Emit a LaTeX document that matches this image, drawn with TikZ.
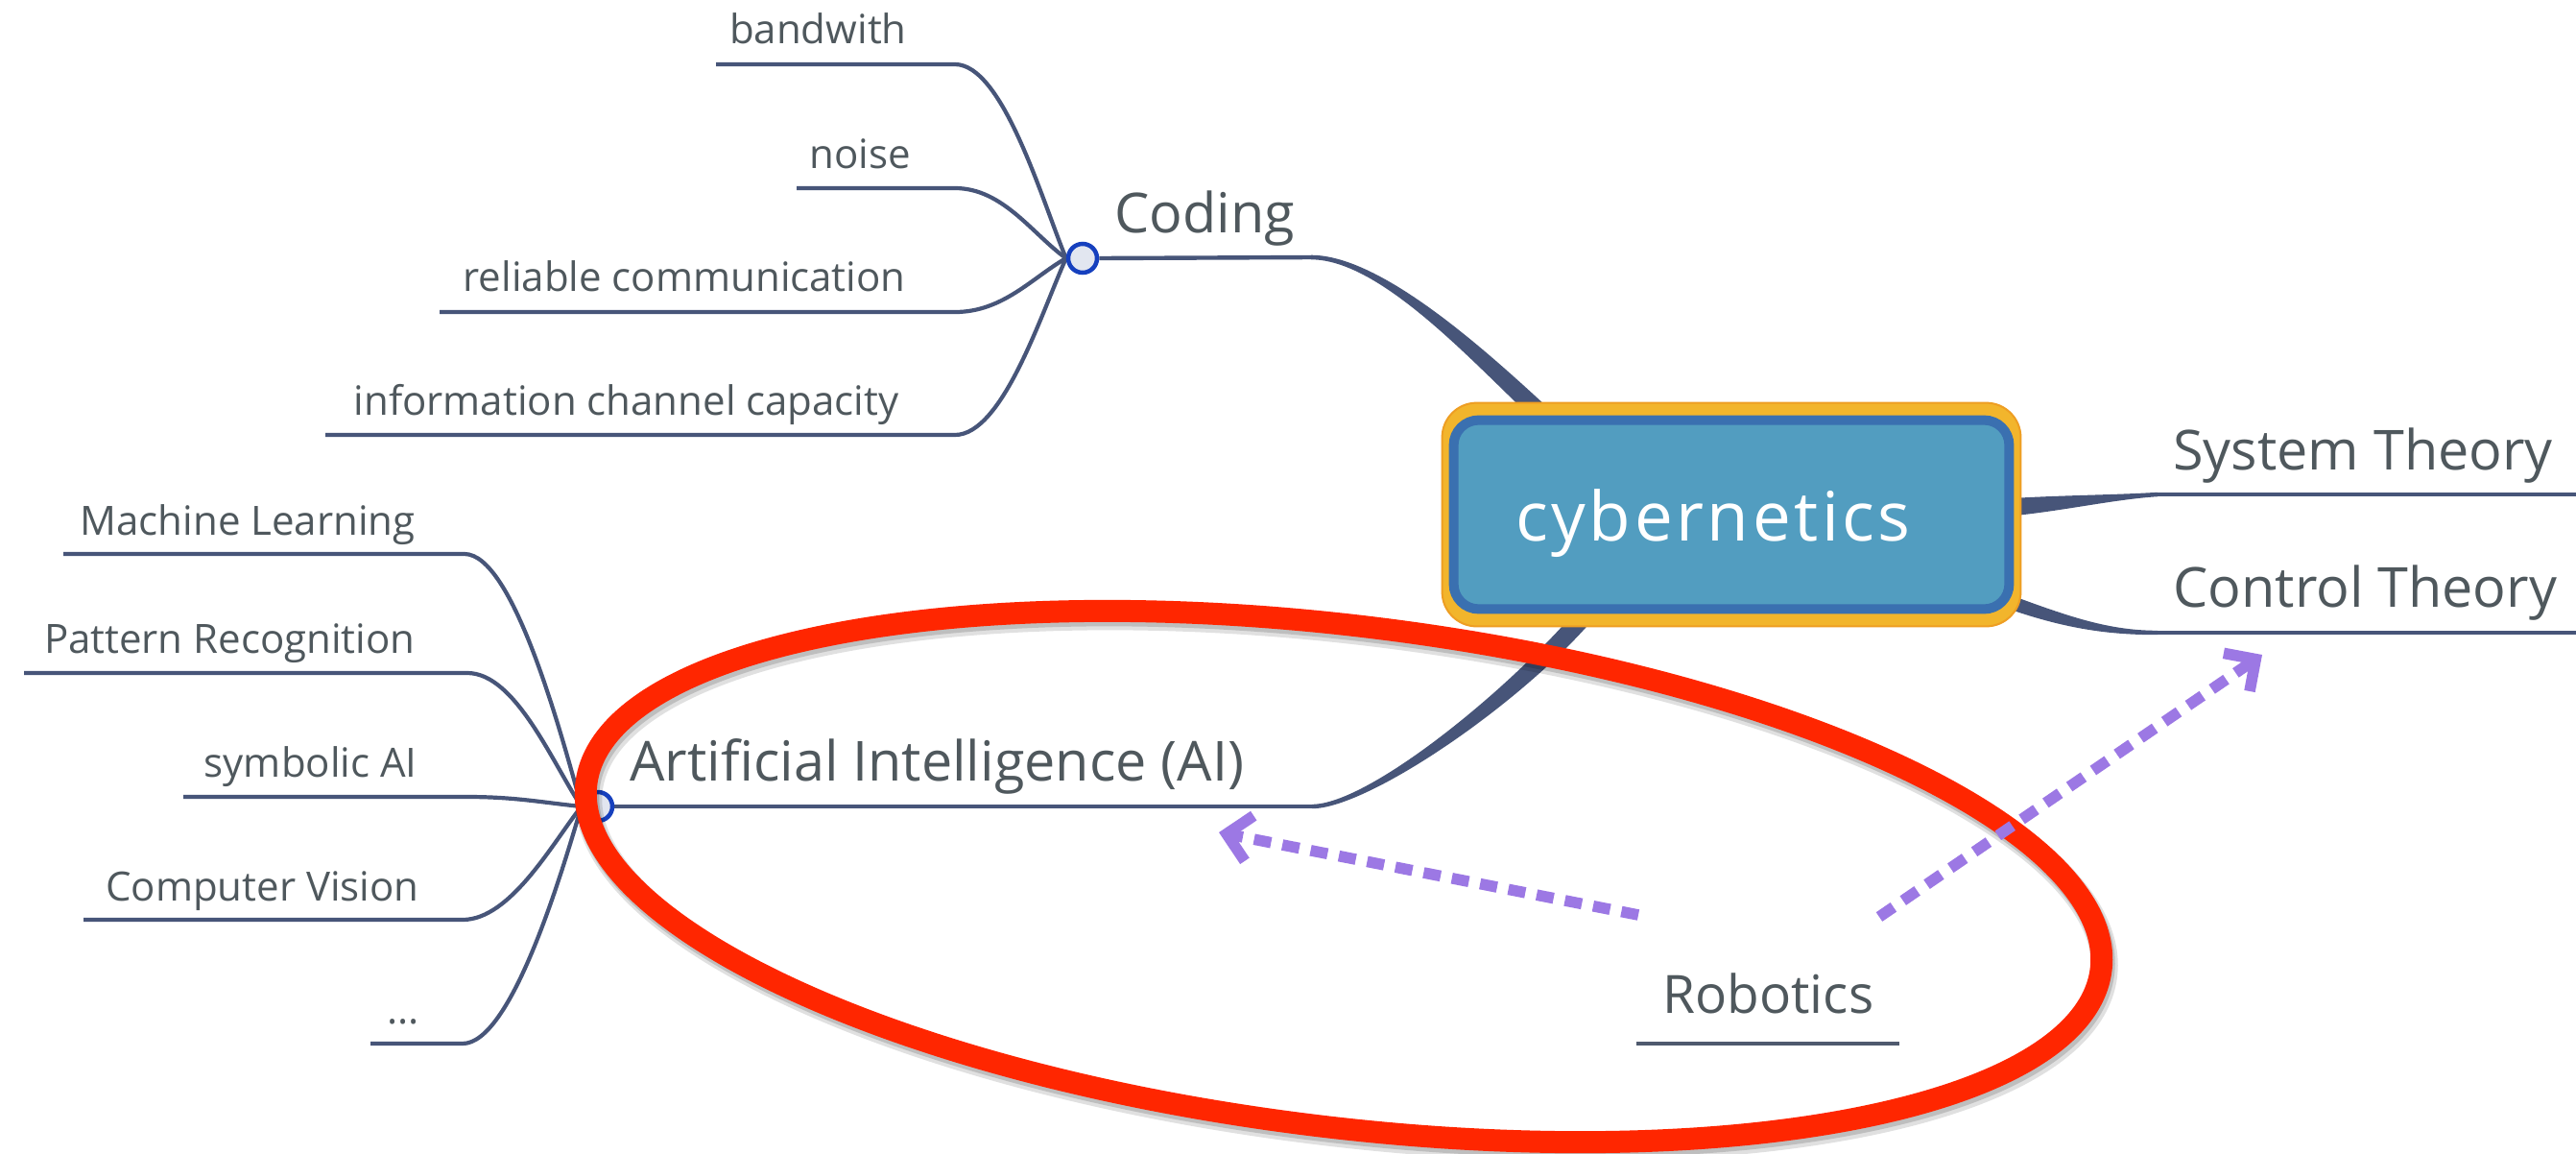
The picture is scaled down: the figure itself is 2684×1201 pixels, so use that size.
\documentclass[tikz,border=0pt]{standalone}
\usepackage{fontspec}
\setmainfont{Open Sans}
\newfontfamily\cybfont[LetterSpace=5]{Open Sans}
\usetikzlibrary{calc,arrows.meta}
\definecolor{branchc}{HTML}{475579}
\definecolor{textc}{HTML}{4F585D}
\definecolor{orfill}{HTML}{F2B52C}
\definecolor{oredge}{HTML}{EE9E23}
\definecolor{boxring}{HTML}{3A70B0}
\definecolor{boxfill}{HTML}{529DC0}
\definecolor{hubfill}{HTML}{E2E6F0}
\definecolor{hubdraw}{HTML}{1640BE}
\definecolor{redc}{HTML}{FF2600}
\definecolor{purp}{HTML}{9C78E4}
\definecolor{robc}{HTML}{4F5A6E}
\pgfdeclarelayer{back}
\pgfdeclarelayer{boxl}
\pgfsetlayers{back,boxl,main}
\newcommand\taper[6]{%
  \fill[branchc] ($(#1)!#5!90:(#2)$) .. controls ($(#2)!#5!-90:(#1)$) and ($(#3)!#6!90:(#4)$) .. ($(#4)!#6!-90:(#3)$)
   -- ($(#4)!#6!90:(#3)$) .. controls ($(#3)!#6!-90:(#4)$) and ($(#2)!#5!90:(#1)$) .. ($(#1)!#5!-90:(#2)$) -- cycle;}
\begin{document}
\begin{tikzpicture}[x=0.5pt,y=-0.5pt,
  lbl/.style={text=textc, inner sep=0pt},
  small/.style={lbl, font=\fontsize{21pt}{25pt}\selectfont, anchor=base east},
  mid/.style={lbl, font=\fontsize{28.75pt}{32pt}\selectfont, anchor=base west},
  childline/.style={draw=branchc, line width=2.1pt},
  branchline/.style={draw=branchc, line width=2.2pt},
  hub/.style={circle, fill=hubfill, draw=hubdraw, line width=2.25pt, minimum size=15pt, inner sep=0pt},
  relarrow/.style={draw=purp, line width=5.8pt, dash pattern=on 9pt off 6pt, -{Straight Barb[length=12pt,width=24pt]}},
  robline/.style={draw=robc, line width=2.4pt},
  cybbox/.style={inner sep=0pt, minimum width=301pt, minimum height=116pt, text=white,
     font=\cybfont\fontsize{35.5pt}{38pt}\selectfont, text height=30pt, text depth=3pt},
]
\useasboundingbox (0,0) rectangle (2684,1201);

% nodes
\node[hub] (codinghub) at (1128,269) {};
\node[hub] (aihub) at (623,840) {};
\node[cybbox] (cyb) at (1804,536) {cybernetics\kern19pt};

\node[mid] (coding) at (1161,242) {Coding};
\node[mid] (ai) at (656,813) {Artificial Intelligence (AI)};
\node[mid] (system) at (2264,489) {System Theory};
\node[mid] (control) at (2264,632) {Control Theory};
\node[lbl, font=\fontsize{27.5pt}{30pt}\selectfont, anchor=base west] (rob) at (1732,1055) {Robotics};

\node[small] (bw) at (945,45) {bandwith};
\node[small] (noise) at (949,175) {noise};
\node[small] (rel) at (944,303) {reliable communication};
\node[small] (info) at (937,432) {information channel capacity};

\node[small] (ml) at (433,557) {Machine Learning};
\node[small] (pr) at (433,680) {Pattern Recognition};
\node[small] (sym) at (435,809) {symbolic AI};
\node[small] (cv) at (437,938) {Computer Vision};
\node[small] (dots) at (437,1066) {...};

% coordinates
\coordinate (cbend) at (1366,268);
\coordinate (cin) at (1612,437);
\coordinate (abend) at (1367,840);
\coordinate (ain) at (1655,636);
\coordinate (sin) at (2085,529);
\coordinate (sbend) at (2248,515);
\coordinate (send) at (2684,515);
\coordinate (ctin) at (2080,622);
\coordinate (ctbend) at (2248,659);
\coordinate (ctend) at (2684,659);

\coordinate (bwA) at (746,67);   \coordinate (bwB) at (995,67);
\coordinate (noA) at (830,196);  \coordinate (noB) at (995,196);
\coordinate (reA) at (458,325);  \coordinate (reB) at (995,325);
\coordinate (inA) at (339,453);  \coordinate (inB) at (995,453);

\coordinate (mlA) at (66,577);   \coordinate (mlB) at (484,577);
\coordinate (prA) at (25,701);   \coordinate (prB) at (487,701);
\coordinate (syA) at (191,830);  \coordinate (syB) at (487,830);
\coordinate (cvA) at (87,958);   \coordinate (cvB) at (482,958);
\coordinate (doA) at (386,1087); \coordinate (doB) at (482,1087);

\coordinate (robA) at (1705,1087); \coordinate (robB) at (1979,1087);

\begin{pgfonlayer}{back}
\fill[white] (0,0) rectangle (2684,1201);
\draw[branchline] (codinghub.east) -- (cbend);
\taper{cbend}{1440,268}{1545,375}{cin}{1.15pt}{4.8pt}
\draw[branchline] (aihub.east) -- (abend);
\taper{abend}{1425,840}{1578,727}{ain}{1.1pt}{4.8pt}
\taper{sin}{2140,525}{2200,518}{sbend}{4.6pt}{1.1pt}
\draw[branchline] (sbend) -- (send);
\taper{ctin}{2150,648}{2195,659}{ctbend}{3.6pt}{1.1pt}
\draw[branchline] (ctbend) -- (ctend);

\draw[childline] (bwA) -- (bwB) .. controls +(50,0) and +(-25,-60) .. (codinghub.west);
\draw[childline] (noA) -- (noB) .. controls +(50,0) and +(-35,-25) .. (codinghub.west);
\draw[childline] (reA) -- (reB) .. controls +(50,0) and +(-35,20) .. (codinghub.west);
\draw[childline] (inA) -- (inB) .. controls +(50,0) and +(-25,55) .. (codinghub.west);

\draw[childline] (mlA) -- (mlB) .. controls +(50,0) and +(-22,-80) .. (aihub.west);
\draw[childline] (prA) -- (prB) .. controls +(50,0) and +(-30,-45) .. (aihub.west);
\draw[childline] (syA) -- (syB) .. controls +(50,0) and +(-40,-4) .. (aihub.west);
\draw[childline] (cvA) -- (cvB) .. controls +(50,0) and +(-30,38) .. (aihub.west);
\draw[childline] (doA) -- (doB) .. controls +(50,0) and +(-22,75) .. (aihub.west);
\end{pgfonlayer}

\begin{pgfonlayer}{boxl}
\fill[orfill, draw=oredge, line width=1pt, rounded corners=18pt] (cyb.north west) rectangle (cyb.south east);
\draw[fill=boxfill, draw=boxring, line width=5pt, rounded corners=13pt]
  ($(cyb.north west)+(12,18)$) rectangle ($(cyb.south east)+(-12,-18)$);
\end{pgfonlayer}

\draw[robline] (robA) -- (robB);

% red ellipse with soft shadow
\draw[black, opacity=0.12, line width=14pt, rotate around={-7:(1403,919)}] (1403,919) ellipse [x radius=795, y radius=261];
\draw[black, opacity=0.15, line width=12pt, rotate around={-7:(1402,917)}] (1402,917) ellipse [x radius=795, y radius=261];
\draw[redc, line width=11.5pt, rotate around={-7:(1400,913)}] (1400,913) ellipse [x radius=795, y radius=261];

% relation arrows
\coordinate (a1s) at (1707,953); \coordinate (a1e) at (1270,867);
\coordinate (a2s) at (1958,955); \coordinate (a2e) at (2357,682);
\draw[relarrow] (a1s) -- (a1e);
\draw[relarrow] (a2s) -- (a2e);
\end{tikzpicture}
\end{document}
